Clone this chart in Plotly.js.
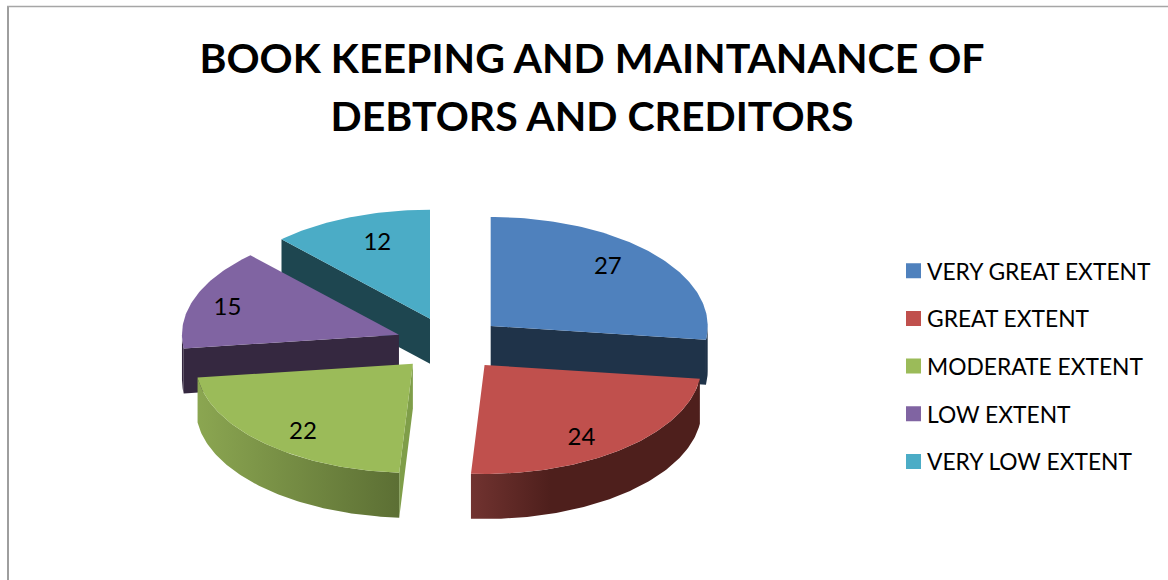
<!DOCTYPE html>
<html>
<head>
<meta charset="utf-8">
<script src="https://cdn.plot.ly/plotly-3.0.1.min.js"></script>
<style>html,body{margin:0;padding:0;background:#fff}#chart{width:1168px;height:580px}</style>
</head>
<body>
<div id="chart"></div>
<script>
// Survey responses
const categories = ["VERY GREAT EXTENT", "GREAT EXTENT", "MODERATE EXTENT", "LOW EXTENT", "VERY LOW EXTENT"];
const values = [27, 24, 22, 15, 12];

// Slice colours: top face, radial cut face, and outer rim (left and right end of its shading)
const topColors = ["#4f81bd", "#c0504d", "#9bbb59", "#8064a2", "#4bacc6"];
const cutColors = ["#1f3349", "#4e1f1c", "#7f9e49", "#352840", "#1e4650"];
const rimLeftColors = ["#1f3349", "#713330", "#8ba651", "#352840", "#1e4650"];
const rimRightColors = ["#1f3349", "#4e1f1c", "#5c6f34", "#352840", "#1e4650"];

// How far along the slice's mid-angle each value label sits
const labelReachX = [0.72, 0.70, 0.74, 0.84, 0.66];
const labelReachY = [0.85, 0.846, 0.83, 0.78, 0.77];
const labelDrop = 3;

// Tilted pie geometry, in axis units (the axes span the page one unit per pixel)
const pie = {cx: 450, cy: 344, rx: 217, ry: 109, depth: 45, pull: 0.25};
// Slices are painted back to front
const paintOrder = [4, 3, 0, 2, 1];

const rad = d => d * Math.PI / 180;
const total = values.reduce((a, b) => a + b, 0);
let running = 0;
const slices = values.map((v, i) => {
  const t0 = running / total * 360;
  running += v;
  const t1 = running / total * 360;
  const mid = rad((t0 + t1) / 2);
  return {
    i, t0, t1, mid,
    ax: pie.cx + pie.pull * pie.rx * Math.sin(mid),
    ay: pie.cy - pie.pull * pie.ry * Math.cos(mid)
  };
});

function rimPoint(s, deg, drop) {
  return [s.ax + pie.rx * Math.sin(rad(deg)), s.ay - pie.ry * Math.cos(rad(deg)) + drop];
}
function arc(s, from, to, drop) {
  const n = Math.max(2, Math.ceil(Math.abs(to - from)));
  const pts = [];
  for (let k = 0; k <= n; k++) pts.push(rimPoint(s, from + (to - from) * k / n, drop));
  return pts;
}
function polygon(pts, extra) {
  return Object.assign({
    type: "scatter", mode: "lines", fill: "toself", showlegend: false, hoverinfo: "skip",
    x: pts.map(p => p[0]), y: pts.map(p => p[1]), line: {width: 0}
  }, extra);
}
function cutFace(s, deg) {
  const rim = rimPoint(s, deg, 0), rimLow = rimPoint(s, deg, pie.depth);
  const pts = [[s.ax, s.ay], rim, rimLow, [s.ax, s.ay + pie.depth], [s.ax, s.ay]];
  return polygon(pts, {fillcolor: cutColors[s.i]});
}

const traces = [];
paintOrder.forEach(idx => {
  const s = slices[idx];
  // Cut faces that turn towards the viewer
  if (Math.sin(rad(s.t0)) < -1e-6) traces.push(cutFace(s, s.t0));
  if (Math.sin(rad(s.t1)) > 1e-6) traces.push(cutFace(s, s.t1));
  // Outer rim on the near half of the ellipse
  const a = Math.max(s.t0, 90), b = Math.min(s.t1, 270);
  if (b > a) {
    const pts = arc(s, a, b, 0).concat(arc(s, b, a, pie.depth));
    pts.push(pts[0]);
    traces.push(polygon(pts, {
      fillcolor: rimRightColors[idx],
      fillgradient: {
        type: "horizontal",
        colorscale: idx === 1
          ? [[0, rimLeftColors[idx]], [0.35, rimRightColors[idx]], [1, rimRightColors[idx]]]
          : [[0, rimLeftColors[idx]], [1, rimRightColors[idx]]]
      }
    }));
  }
  // Top face
  const top = [[s.ax, s.ay]].concat(arc(s, s.t0, s.t1, 0), [[s.ax, s.ay]]);
  traces.push(polygon(top, {fillcolor: topColors[idx]}));
});

// Value labels
traces.push({
  type: "scatter", mode: "text", showlegend: false, hoverinfo: "skip",
  x: slices.map(s => s.ax + labelReachX[s.i] * pie.rx * Math.sin(s.mid)),
  y: slices.map(s => s.ay - labelReachY[s.i] * pie.ry * Math.cos(s.mid) + labelDrop),
  text: values.map(String),
  textposition: "middle center",
  textfont: {family: "Lato, sans-serif", size: 24, color: "#000"}
});

// Legend entries
categories.forEach((name, i) => {
  traces.push({
    type: "scatter", mode: "markers", name, x: [null], y: [null],
    legendgroup: name,
    marker: {symbol: "square", size: 15, color: topColors[i]},
    hoverinfo: "skip"
  });
});

const layout = {
  width: 1168, height: 580,
  margin: {l: 0, r: 0, t: 0, b: 0},
  paper_bgcolor: "#fff", plot_bgcolor: "#fff",
  title: {
    text: '<span style="font-size:41px">BOOK KEEPING AND MAINTANANCE OF<br>DEBTORS AND CREDITORS</span>',
    font: {family: "Lato, sans-serif", size: 44.6, color: "#000", weight: 700},
    x: 592 / 1168, xanchor: "center", xref: "paper",
    y: 1 - 73 / 580, yanchor: "top", yref: "paper"
  },
  xaxis: {range: [0, 1168], visible: false, fixedrange: true},
  yaxis: {range: [580, 0], visible: false, fixedrange: true},
  legend: {
    x: 900 / 1168, xanchor: "left",
    y: 1 - 249.5 / 580, yanchor: "top",
    traceorder: "grouped",
    tracegroupgap: 15,
    indentation: -13,
    itemclick: false, itemdoubleclick: false,
    font: {family: "Lato, sans-serif", size: 22.8, color: "#000"},
    bgcolor: "rgba(0,0,0,0)"
  },
  shapes: [
    {type: "line", xref: "paper", yref: "paper", x0: 8 / 1168, x1: 8 / 1168, y0: 0, y1: 1 - 6 / 580,
     line: {color: "#9e9e9e", width: 2}},
    {type: "line", xref: "paper", yref: "paper", x0: 7 / 1168, x1: 1, y0: 1 - 6.5 / 580, y1: 1 - 6.5 / 580,
     line: {color: "#a6a6a6", width: 1.5}}
  ]
};

// Plotly keeps a wide slot for legend symbols; nudge the swatches next to their labels
function tightenLegend() {
  document.querySelectorAll("#chart .legendsymbols").forEach(g => {
    g.setAttribute("transform", "translate(6.5,0)");
  });
}

Plotly.newPlot("chart", traces, layout, {displayModeBar: false}).then(gd => {
  tightenLegend();
  gd.on("plotly_afterplot", tightenLegend);
});
</script>
</body>
</html>
